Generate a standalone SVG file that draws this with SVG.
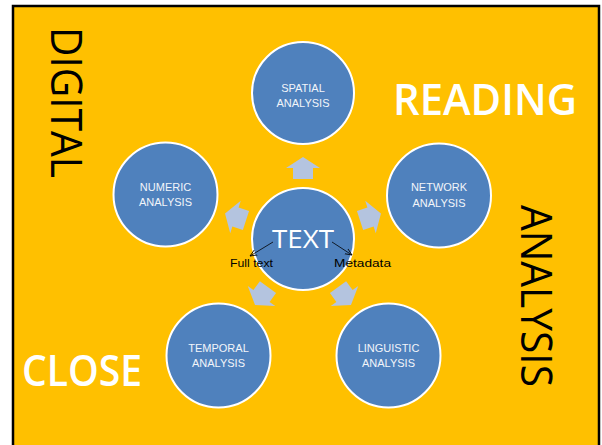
<svg xmlns="http://www.w3.org/2000/svg" width="602" height="445" viewBox="0 0 602 445">
<defs>
<style>
.node circle{fill:#4F81BD;stroke:#fff;stroke-width:2}
.lbl{font-family:"Liberation Sans",Arial,sans-serif;font-size:11px;fill:#F2F5FA;text-anchor:middle}
.big{font-family:"Open Sans","Liberation Sans",Arial,sans-serif;font-size:44px}
.wbig{font-weight:600;fill:#fff}
.blk{fill:#B4C4DF}
.small{font-family:"Liberation Sans",Arial,sans-serif;font-size:11.5px;fill:#000}
</style>
<path id="barrow" d="M0,-11 L17,0 L10,0 L10,11 L-10,11 L-10,0 L-17,0 Z"/>
<marker id="ah" markerWidth="8" markerHeight="8" refX="7" refY="4" orient="auto" markerUnits="userSpaceOnUse">
<path d="M0,1 L7,4 L0,7" fill="none" stroke="#000" stroke-width="0.8"/>
</marker>
</defs>
<rect x="0" y="0" width="602" height="445" fill="#fff"/>
<rect x="13" y="6" width="586" height="450" fill="#FFC000" stroke="#000" stroke-width="2.5"/>

<g id="connectors">
<use href="#barrow" class="blk" transform="translate(303,168)"/>
<use href="#barrow" class="blk" transform="translate(370.5,217) rotate(72)"/>
<use href="#barrow" class="blk" transform="translate(344.5,296) rotate(144)"/>
<use href="#barrow" class="blk" transform="translate(261.5,296) rotate(216)"/>
<use href="#barrow" class="blk" transform="translate(235.5,217) rotate(288)"/>
</g>

<g id="spatial" class="node"><circle cx="303" cy="93" r="51"/><text class="lbl" x="303" y="92">SPATIAL</text><text class="lbl" x="303" y="107">ANALYSIS</text></g>
<g id="network" class="node"><circle cx="439" cy="195.5" r="52"/><text class="lbl" x="439" y="191">NETWORK</text><text class="lbl" x="439" y="206.5">ANALYSIS</text></g>
<g id="numeric" class="node"><circle cx="165.5" cy="194.5" r="52"/><text class="lbl" x="165.5" y="190.5">NUMERIC</text><text class="lbl" x="165.5" y="206">ANALYSIS</text></g>
<g id="temporal" class="node"><circle cx="218.5" cy="355.5" r="52"/><text class="lbl" x="218.5" y="351.5">TEMPORAL</text><text class="lbl" x="218.5" y="367">ANALYSIS</text></g>
<g id="linguistic" class="node"><circle cx="388.5" cy="355.5" r="52"/><text class="lbl" x="388.5" y="351.5">LINGUISTIC</text><text class="lbl" x="388.5" y="367">ANALYSIS</text></g>
<g id="text" class="node"><circle cx="303" cy="239" r="51"/>
<text x="303" y="248" font-family="Open Sans, Liberation Sans, Arial, sans-serif" font-size="26" fill="#fff" text-anchor="middle" textLength="62" lengthAdjust="spacingAndGlyphs">TEXT</text>
</g>

<g id="sub-connectors">
<line x1="273" y1="242" x2="250" y2="256" stroke="#000" stroke-width="0.8" marker-end="url(#ah)"/>
<line x1="332" y1="242" x2="352" y2="255" stroke="#000" stroke-width="0.8" marker-end="url(#ah)"/>
</g>
<g id="fulltext"><text class="small" x="230" y="267" textLength="43" lengthAdjust="spacingAndGlyphs">Full text</text></g>
<g id="metadata"><text class="small" x="334" y="267" textLength="57" lengthAdjust="spacingAndGlyphs">Metadata</text></g>

<g id="digital"><text class="big" transform="translate(51,27) rotate(90)" x="0" y="0" textLength="151" lengthAdjust="spacingAndGlyphs" fill="#000">DIGITAL</text></g>
<g id="analysis"><text class="big" transform="translate(521,205) rotate(90)" x="0" y="0" textLength="182" lengthAdjust="spacingAndGlyphs" fill="#000">ANALYSIS</text></g>
<g id="reading"><text class="big wbig" x="393" y="115" textLength="184" lengthAdjust="spacingAndGlyphs">READING</text></g>
<g id="close"><text class="big wbig" x="22" y="386" textLength="120" lengthAdjust="spacingAndGlyphs">CLOSE</text></g>
</svg>
